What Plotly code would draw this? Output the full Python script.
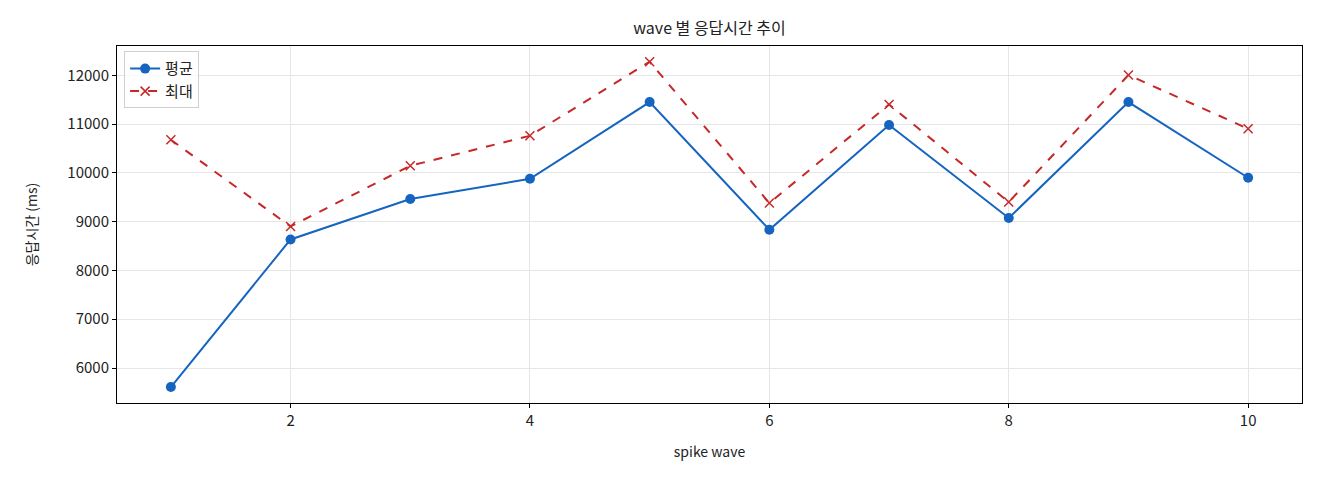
import plotly.graph_objects as go

# wave 번호
waves = [1, 2, 3, 4, 5, 6, 7, 8, 9, 10]

# 평균 / 최대 응답시간 (ms)
avg_ms = [5610, 8635, 9463, 9879, 11451, 8834, 10980, 9074, 11451, 9900]
max_ms = [10678, 8902, 10145, 10760, 12277, 9381, 11400, 9402, 12004, 10904]

FONT = "Noto Sans CJK KR, Noto Sans, DejaVu Sans"

fig = go.Figure()
fig.add_trace(go.Scatter(
    x=waves, y=avg_ms, name="평균", mode="lines+markers",
    line=dict(color="#1565c0", width=2),
    marker=dict(symbol="circle", size=10, color="#1565c0"),
))
fig.add_trace(go.Scatter(
    x=waves, y=max_ms, name="최대", mode="lines+markers",
    line=dict(color="#c62828", width=2, dash="dash"),
    marker=dict(symbol="x-thin", size=9, line=dict(color="#c62828", width=1.5)),
))

axis_common = dict(
    showline=True, linecolor="black", linewidth=1, mirror=True,
    ticks="outside", ticklen=4, tickcolor="black",
    showgrid=True, gridcolor="#e6e6e6", gridwidth=1,
    zeroline=False, tickfont=dict(size=15, color="#222"),
)

# 페이지 body 여백(8px)을 감안한 크기
fig.update_layout(
    width=1304, height=464,
    margin=dict(l=109, r=10, t=38, b=69),
    paper_bgcolor="white", plot_bgcolor="white",
    font=dict(family=FONT, color="#222"),
    title=dict(text="wave 별 응답시간 추이", xref="paper", x=0.5, xanchor="center",
               y=0.955, yanchor="middle", font=dict(size=16)),
    xaxis=dict(range=[0.55, 10.45], tickvals=[2, 4, 6, 8, 10],
               title=dict(text="spike wave", font=dict(size=14), standoff=18),
               **axis_common),
    yaxis=dict(range=[5283, 12600], dtick=1000, tickformat="d",
               title=dict(text="응답시간 (ms)", font=dict(size=14), standoff=26),
               **axis_common),
    legend=dict(x=0.006, y=0.985, xanchor="left", yanchor="top",
                bgcolor="rgba(255,255,255,0.8)", bordercolor="#d0d0d0",
                borderwidth=1, font=dict(size=15)),
    showlegend=True,
)

fig.write_html("out.html")
